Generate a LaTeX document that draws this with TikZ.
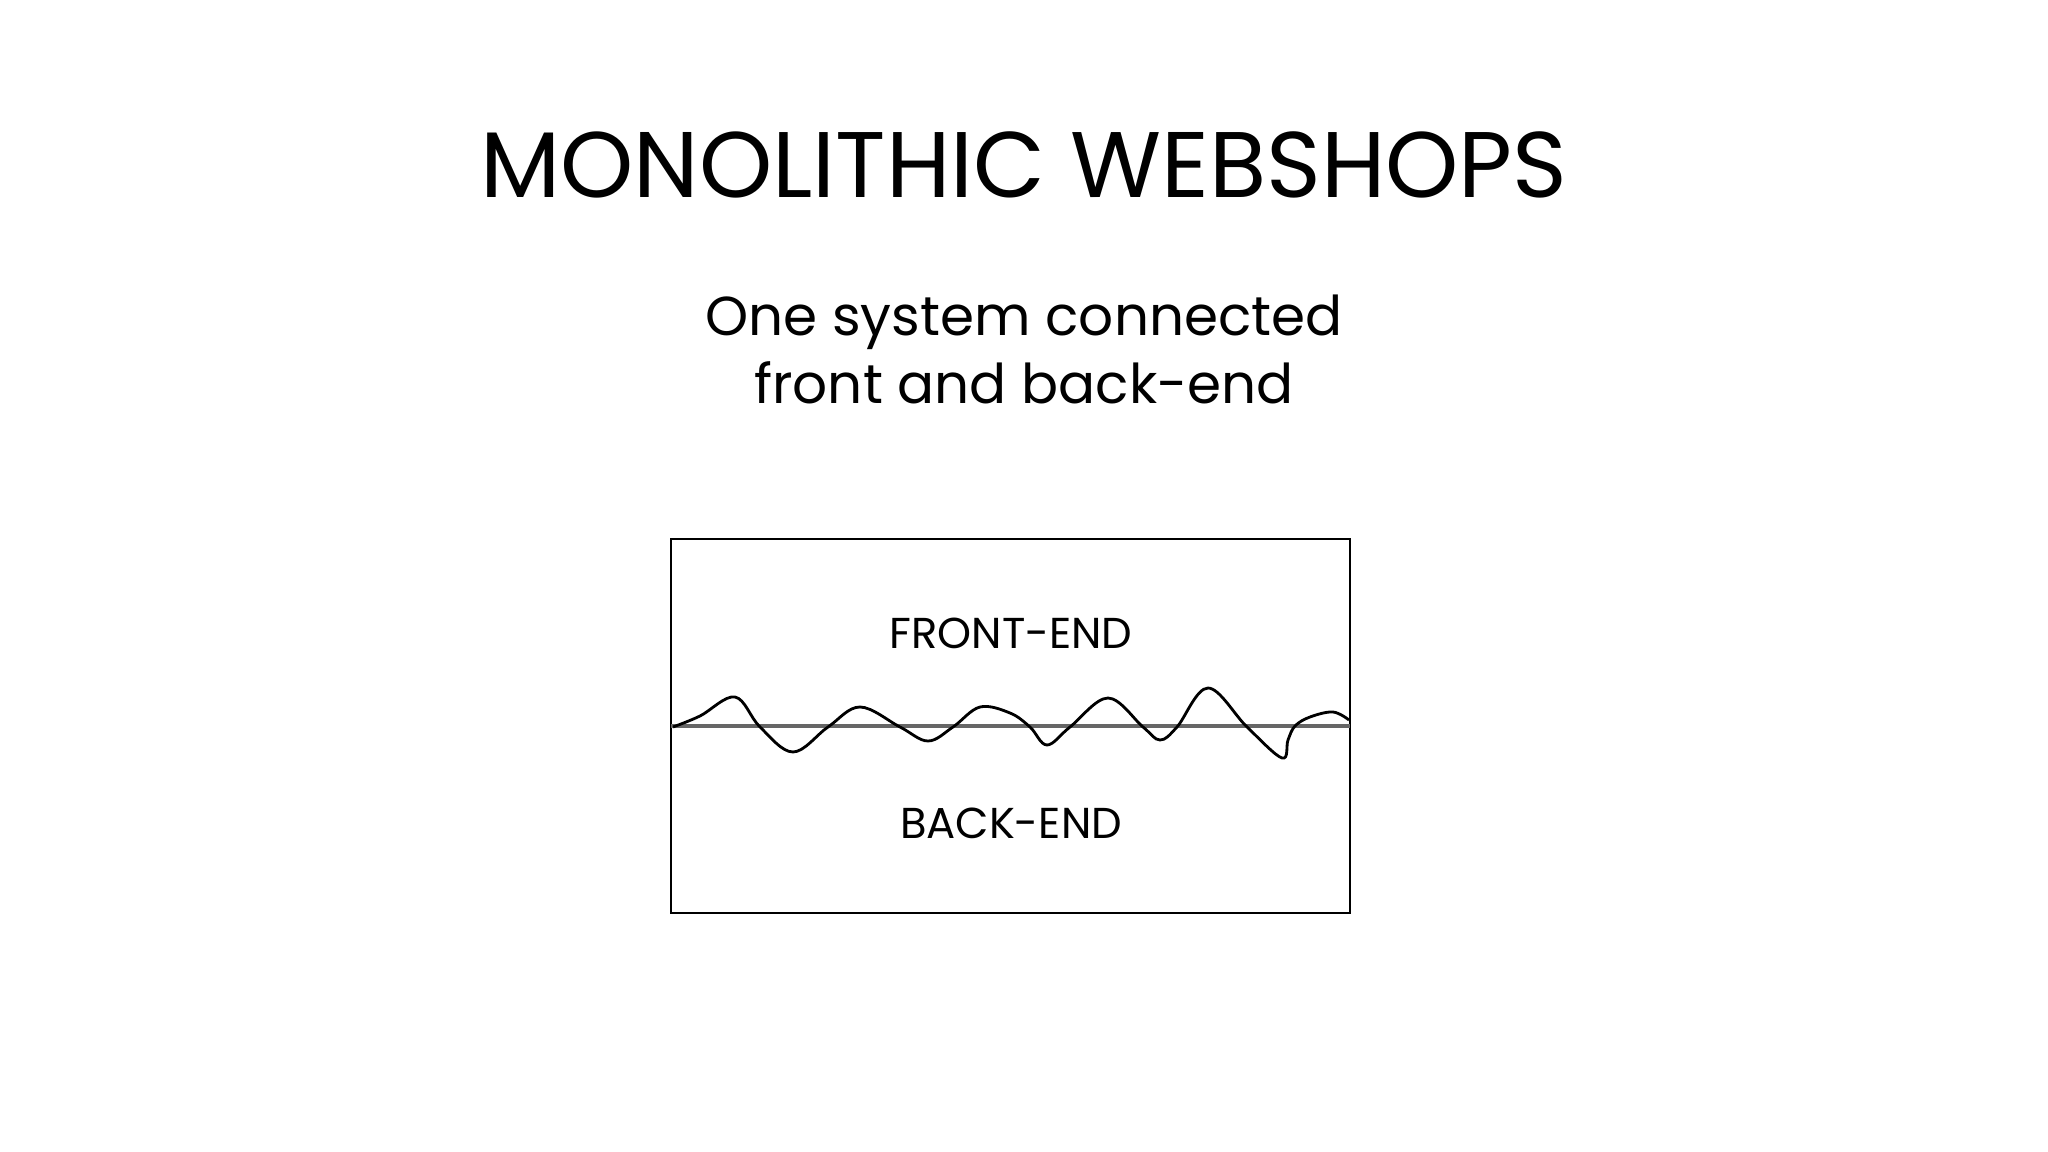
\documentclass[tikz,border=0pt]{standalone}
\usepackage{fontspec}
\setmainfont{Poppins}
\begin{document}
\begin{tikzpicture}[x=0.01cm,y=-0.01cm,
  title/.style={anchor=base,inner sep=0pt,font=\fontsize{26.5}{32}\selectfont},
  subtitle/.style={anchor=base,inner sep=0pt,font=\fontsize{15.6}{19}\selectfont},
  label/.style={anchor=base,inner sep=0pt,font=\fontsize{12.3}{14}\selectfont},
  frame/.style={draw=black,line width=0.7pt,inner sep=0pt},
  divider/.style={draw=black!60,line width=1.2pt},
  wave/.style={draw=black,line width=0.8pt}]
\useasboundingbox[fill=white] (0,0) rectangle (2048,1152);
\node[title] (t) at (1024,198) {MONOLITHIC WEBSHOPS};
\node[subtitle] (s1) at (1024,336) {One system connected};
\node[subtitle] (s2) at (1024,404) {front and back-end};
\node[frame,minimum width=6.79cm,minimum height=3.74cm] (box) at (1010.5,726) {};
\coordinate (dl) at (671,726);
\coordinate (dr) at (1350,726);
\draw[divider] (dl) -- (dr);
\draw[wave] plot[smooth,tension=0.6] coordinates {
 (673,727) (700,716) (735,697) (760,727) (793,752) (828,727) (860,707) (900,727)
 (928,741) (953,727) (980,707) (1010,713) (1030,727) (1047,745) (1070,727) (1108,698)
 (1143,727) (1160,740) (1177,727) (1208,688) (1247,727) (1282,758) (1288,740) (1295,726)
 (1310,717) (1333,712) (1349,720)};
\node[label] (fe) at (1011,648) {FRONT-END};
\node[label] (be) at (1011,838) {BACK-END};
\end{tikzpicture}
\end{document}
